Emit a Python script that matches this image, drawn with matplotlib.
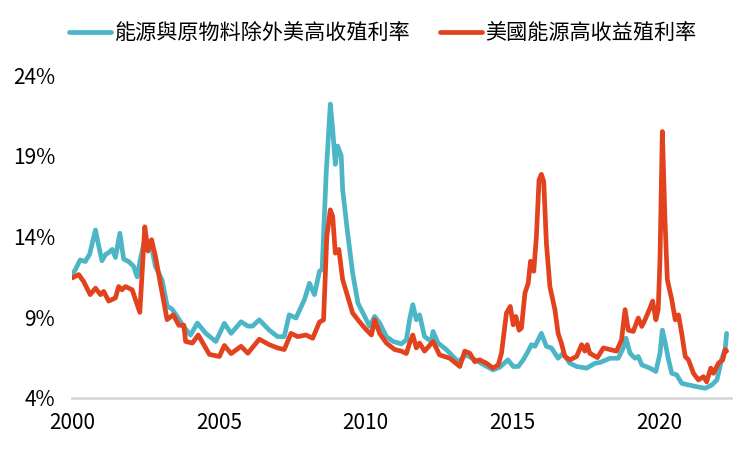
import matplotlib
matplotlib.use("Agg")
import matplotlib.pyplot as plt

plt.rcParams['font.family'] = ['Noto Sans CJK TC', 'DejaVu Sans']

# dates as decimal years, values in %
teal_years = [2000.0, 2000.1, 2000.28, 2000.45, 2000.6, 2000.8, 2000.9, 2001.02, 2001.15, 2001.25,
              2001.37, 2001.48, 2001.63, 2001.76, 2001.93, 2002.1, 2002.22, 2002.33, 2002.45, 2002.56,
              2002.73, 2002.84, 2003.07, 2003.24, 2003.41, 2003.58, 2003.81, 2004.04, 2004.27, 2004.56,
              2004.9, 2005.19, 2005.42, 2005.76, 2005.99, 2006.15, 2006.38, 2006.72, 2007.0, 2007.23,
              2007.4, 2007.63, 2007.92, 2008.09, 2008.26, 2008.43, 2008.52, 2008.66, 2008.8, 2008.88,
              2008.97, 2009.05, 2009.17, 2009.22, 2009.39, 2009.56, 2009.74, 2009.97, 2010.14, 2010.31,
              2010.48, 2010.71, 2010.94, 2011.22, 2011.39, 2011.5, 2011.61, 2011.73, 2011.84, 2012.01,
              2012.24, 2012.3, 2012.47, 2012.75, 2013.15, 2013.43, 2013.89, 2014.34, 2014.57, 2014.85,
              2015.03, 2015.2, 2015.37, 2015.54, 2015.65, 2015.77, 2015.99, 2016.16, 2016.33, 2016.56,
              2016.73, 2016.96, 2017.19, 2017.53, 2017.82, 2017.99, 2018.33, 2018.61, 2018.78, 2018.87,
              2019.01, 2019.18, 2019.29, 2019.41, 2019.69, 2019.89, 2020.03, 2020.11, 2020.2, 2020.31,
              2020.43, 2020.6, 2020.77, 2021.0, 2021.28, 2021.57, 2021.8, 2021.97, 2022.14, 2022.25,
              2022.3]
teal_vals = [11.6, 11.9, 12.55, 12.45, 12.9, 14.4, 13.5, 12.5, 12.9, 13.0,
             13.2, 12.7, 14.2, 12.6, 12.45, 12.15, 11.5, 12.6, 13.6, 13.2,
             13.2, 12.15, 11.3, 9.7, 9.5, 9.05, 8.4, 7.9, 8.64, 8.0,
             7.5, 8.62, 8.0, 8.72, 8.45, 8.45, 8.84, 8.2, 7.8, 7.8,
             9.15, 8.95, 10.1, 11.1, 10.4, 11.85, 11.95, 17.95, 22.2, 20.65,
             18.47, 19.6, 19.0, 16.9, 14.2, 11.74, 9.88, 9.05, 8.43, 9.05,
             8.64, 7.8, 7.5, 7.35, 7.6, 8.84, 9.78, 8.84, 9.15, 7.8,
             7.5, 8.12, 7.4, 7.0, 6.25, 6.67, 6.2, 5.74, 5.9, 6.36,
             5.95, 5.95, 6.36, 6.9, 7.3, 7.2, 8.0, 7.2, 7.1, 6.46,
             6.77, 6.15, 5.95, 5.85, 6.15, 6.2, 6.46, 6.46, 7.1, 7.7,
             6.77, 6.46, 6.57, 6.05, 5.85, 5.64, 6.77, 8.2, 7.5, 6.46,
             5.53, 5.43, 4.91, 4.81, 4.7, 4.6, 4.81, 5.12, 6.46, 7.0,
             8.0]

red_years = [2000.0, 2000.23, 2000.4, 2000.62, 2000.8, 2000.97, 2001.08, 2001.25, 2001.48, 2001.59,
             2001.7, 2001.82, 2002.05, 2002.31, 2002.48, 2002.59, 2002.71, 2002.84, 2003.01, 2003.24,
             2003.45, 2003.64, 2003.81, 2003.87, 2004.1, 2004.3, 2004.68, 2005.02, 2005.19, 2005.42,
             2005.76, 2005.99, 2006.38, 2006.72, 2007.0, 2007.23, 2007.46, 2007.69, 2007.97, 2008.2,
             2008.43, 2008.57, 2008.68, 2008.8, 2008.88, 2008.97, 2009.09, 2009.22, 2009.39, 2009.56,
             2009.74, 2009.97, 2010.2, 2010.31, 2010.48, 2010.71, 2010.99, 2011.22, 2011.39, 2011.5,
             2011.61, 2011.73, 2011.84, 2012.01, 2012.3, 2012.52, 2012.87, 2013.21, 2013.38, 2013.55,
             2013.72, 2013.89, 2014.12, 2014.34, 2014.52, 2014.63, 2014.8, 2014.93, 2015.03, 2015.12,
             2015.23, 2015.31, 2015.43, 2015.54, 2015.62, 2015.73, 2015.82, 2015.91, 2015.99, 2016.07,
             2016.16, 2016.28, 2016.45, 2016.56, 2016.67, 2016.79, 2016.96, 2017.19, 2017.36, 2017.47,
             2017.55, 2017.64, 2017.9, 2018.1, 2018.33, 2018.55, 2018.72, 2018.84, 2018.95, 2019.12,
             2019.29, 2019.41, 2019.52, 2019.69, 2019.78, 2019.89, 2019.97, 2020.03, 2020.11, 2020.2,
             2020.28, 2020.43, 2020.55, 2020.66, 2020.77, 2020.89, 2021.0, 2021.17, 2021.34, 2021.51,
             2021.62, 2021.76, 2021.85, 2022.02, 2022.17, 2022.25, 2022.3]
red_vals = [11.43, 11.64, 11.2, 10.4, 10.8, 10.4, 10.6, 10.0, 10.2, 10.9,
            10.7, 10.9, 10.7, 9.3, 14.6, 13.1, 13.8, 12.8, 11.1, 8.85,
            9.15, 8.5, 8.5, 7.5, 7.4, 7.9, 6.7, 6.57, 7.25, 6.75,
            7.2, 6.77, 7.64, 7.3, 7.1, 7.0, 8.0, 7.8, 7.9, 7.7,
            8.7, 8.84, 14.0, 15.65, 15.25, 12.97, 13.2, 11.33, 10.3, 9.26,
            8.84, 8.33, 7.9, 8.84, 8.0, 7.4, 7.0, 6.9, 6.75, 7.4,
            7.9, 7.1, 7.4, 6.9, 7.5, 6.67, 6.46, 5.95, 6.9, 6.77,
            6.25, 6.36, 6.15, 5.85, 6.05, 6.77, 9.26, 9.67, 8.53, 9.05,
            8.2, 8.33, 10.5, 11.1, 12.47, 11.85, 14.0, 17.5, 17.85, 17.4,
            13.6, 10.9, 9.47, 8.0, 7.4, 6.57, 6.36, 6.57, 7.3, 6.9,
            7.3, 6.77, 6.5, 7.1, 7.0, 6.9, 7.6, 9.47, 8.2, 8.12,
            8.95, 8.43, 8.84, 9.57, 10.0, 8.84, 9.47, 12.57, 20.5, 15.05,
            11.33, 10.1, 8.84, 9.15, 8.0, 6.57, 6.36, 5.53, 5.12, 5.32,
            5.0, 5.85, 5.53, 6.15, 6.36, 7.0, 6.9]

teal_label = "能源與原物料除外美高收殖利率"
red_label = "美國能源高收益殖利率"
y_ticks = [4, 9, 14, 19, 24]
x_ticks = [2000, 2005, 2010, 2015, 2020]

fig = plt.figure(figsize=(7.5, 4.5), dpi=100)
ax = fig.add_axes([0.096, 0.1156, 0.8787, 0.7177])

ax.plot(teal_years, teal_vals, color="#4db6c6", lw=3.4, label=teal_label,
        solid_joinstyle="round", solid_capstyle="round")
ax.plot(red_years, red_vals, color="#e2431e", lw=3.4, label=red_label,
        solid_joinstyle="round", solid_capstyle="round")

ax.set_xlim(2000, 2022.45)
ax.set_ylim(4, 24)
ax.set_yticks(y_ticks)
ax.set_yticklabels([f"{v}%" for v in y_ticks])
ax.set_xticks(x_ticks)
ax.set_xticklabels([str(v) for v in x_ticks])

for s in ["top", "right", "left"]:
    ax.spines[s].set_visible(False)
ax.spines["bottom"].set_color("#d9d9d9")
ax.spines["bottom"].set_linewidth(2)
ax.spines["bottom"].set_zorder(0)
ax.tick_params(axis="both", length=0, labelsize=15, colors="#000000")
ax.tick_params(axis="x", pad=10)
ax.tick_params(axis="y", pad=12)

fig.legend(loc="center", bbox_to_anchor=(0.51, 0.926), ncol=2, frameon=False,
           fontsize=15.2, handlelength=2.0, handletextpad=0.15, columnspacing=1.4)

plt.savefig("out.png")
